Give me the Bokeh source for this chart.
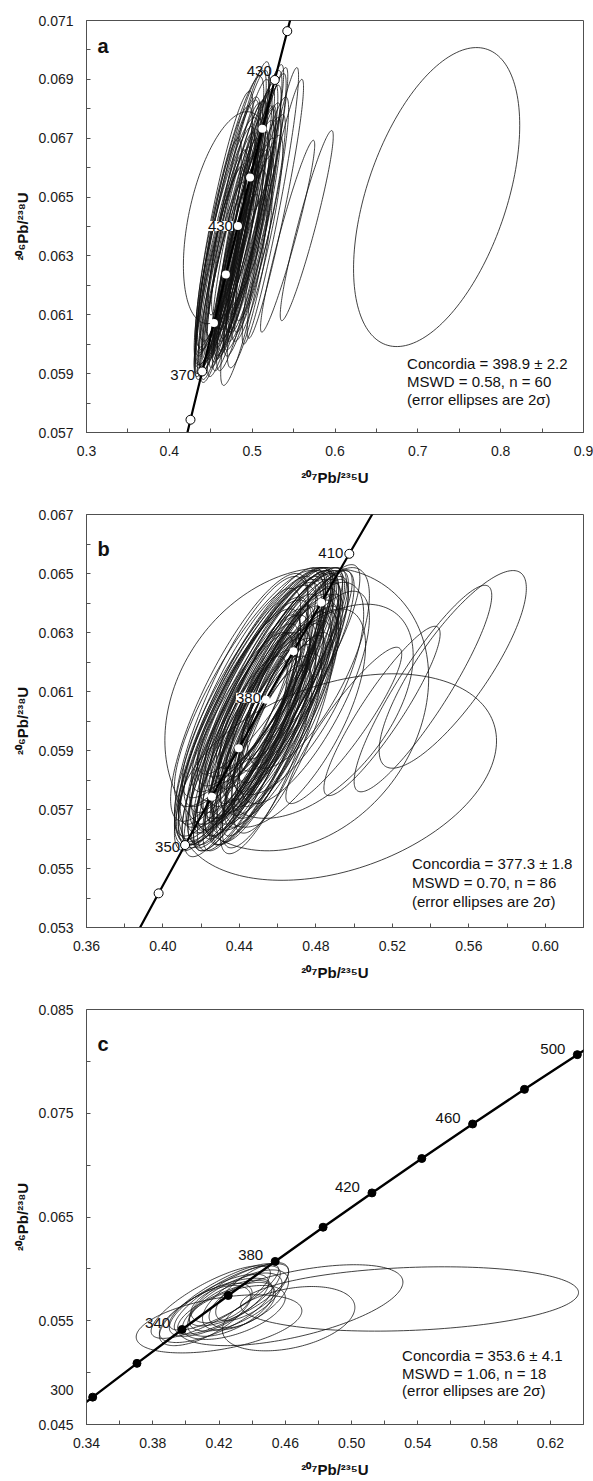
import numpy as np
from bokeh.plotting import figure
from bokeh.models import Range1d, FixedTicker, PrintfTickFormatter, Label
from bokeh.layouts import column
from bokeh.embed import file_html
from bokeh.resources import INLINE

FONT = "Liberation Sans"
L235 = 9.8485e-4   # decay constant 235U, 1/Ma
L238 = 1.55125e-4  # decay constant 238U, 1/Ma

# ---------------- panel a : error ellipses (centre, 2-sigma half widths, rho) ----------------
a_cx = [0.480, 0.470, 0.490, 0.462, 0.498, 0.476, 0.486, 0.461, 0.494, 0.505,
        0.469, 0.483, 0.492, 0.472, 0.502, 0.459, 0.488, 0.478, 0.508, 0.463,
        0.497, 0.482, 0.468, 0.492, 0.503, 0.466, 0.487, 0.499, 0.474, 0.489,
        0.503, 0.461, 0.481, 0.506, 0.473, 0.484, 0.495, 0.467, 0.479, 0.509,
        0.465, 0.486, 0.475, 0.496, 0.470, 0.490, 0.512, 0.471, 0.484, 0.497,
        0.466, 0.491, 0.477, 0.528, 0.480, 0.522,
        0.470, 0.5428, 0.5659, 0.7227]
a_cy = [0.0636, 0.0632, 0.0640, 0.0628, 0.0645, 0.0638, 0.0634, 0.0625, 0.0641, 0.0648,
        0.0635, 0.0630, 0.0637, 0.0641, 0.0639, 0.0630, 0.0644, 0.0627, 0.0652, 0.0622,
        0.0634, 0.0648, 0.0629, 0.0646, 0.0643, 0.0637, 0.0625, 0.0650, 0.0620, 0.0631,
        0.0655, 0.0624, 0.0642, 0.0636, 0.0645, 0.0628, 0.0647, 0.0633, 0.0639, 0.0641,
        0.0619, 0.0650, 0.0633, 0.0630, 0.0640, 0.0618, 0.0646, 0.0626, 0.0653, 0.0623,
        0.0641, 0.0638, 0.0647, 0.0646, 0.0621, 0.0647,
        0.0643, 0.06367, 0.06403, 0.0650]
a_sx = [0.036, 0.034, 0.036, 0.032, 0.037, 0.037, 0.033, 0.031, 0.035, 0.036,
        0.039, 0.032, 0.035, 0.038, 0.033, 0.028, 0.036, 0.030, 0.035, 0.029,
        0.032, 0.038, 0.033, 0.035, 0.032, 0.034, 0.030, 0.037, 0.028, 0.031,
        0.035, 0.030, 0.035, 0.031, 0.041, 0.029, 0.036, 0.036, 0.039, 0.031,
        0.028, 0.035, 0.033, 0.030, 0.038, 0.028, 0.032, 0.033, 0.037, 0.027,
        0.035, 0.037, 0.040, 0.034, 0.028, 0.034,
        0.053, 0.0327, 0.032, 0.1003]
a_sy = [0.0041, 0.0040, 0.0041, 0.0038, 0.0043, 0.0044, 0.0039, 0.0036, 0.0040, 0.0044,
        0.0042, 0.0036, 0.0039, 0.0043, 0.0038, 0.0040, 0.0042, 0.0035, 0.0042, 0.0033,
        0.0036, 0.0045, 0.0038, 0.0041, 0.0039, 0.0044, 0.0034, 0.0043, 0.0031, 0.0035,
        0.0040, 0.0036, 0.0041, 0.0035, 0.0046, 0.0033, 0.0042, 0.0041, 0.0044, 0.0037,
        0.0032, 0.0040, 0.0037, 0.0034, 0.0043, 0.0032, 0.0038, 0.0038, 0.0043, 0.0031,
        0.0045, 0.0042, 0.0046, 0.0044, 0.0030, 0.0047,
        0.0036, 0.00326, 0.00323, 0.00508]
a_rho = [0.90, 0.91, 0.90, 0.90, 0.91, 0.89, 0.92, 0.89, 0.91, 0.92,
         0.86, 0.90, 0.88, 0.87, 0.89, 0.86, 0.91, 0.91, 0.93, 0.88,
         0.87, 0.90, 0.86, 0.93, 0.88, 0.87, 0.88, 0.90, 0.89, 0.91,
         0.92, 0.87, 0.92, 0.86, 0.88, 0.89, 0.88, 0.89, 0.91, 0.90,
         0.86, 0.90, 0.93, 0.88, 0.90, 0.87, 0.89, 0.91, 0.91, 0.85,
         0.88, 0.92, 0.89, 0.94, 0.88, 0.94,
         0.45, 0.95, 0.94, 0.48]
a_curve_ages = [340, 350, 360, 370, 380, 390, 400, 410, 420, 430, 440, 450, 460]
a_open_ages = [360, 370, 430, 440]
a_white_ages = [380, 390, 400, 410, 420]
a_lab_ages = [430, 400, 370]
a_lab_text = ["430", "430", "370"]

# ---------------- panel b ----------------
b_cx = [0.450, 0.446, 0.455, 0.442, 0.459, 0.448, 0.453, 0.440, 0.457, 0.463,
        0.444, 0.451, 0.456, 0.447, 0.461, 0.439, 0.454, 0.449, 0.466, 0.443,
        0.458, 0.452, 0.445, 0.457, 0.462, 0.441, 0.452, 0.460, 0.447, 0.455,
        0.467, 0.437, 0.450, 0.462, 0.445, 0.453, 0.459, 0.442, 0.451, 0.465,
        0.438, 0.456, 0.448, 0.460, 0.444, 0.457, 0.468, 0.446, 0.454, 0.463,
        0.440, 0.458, 0.449, 0.464, 0.451, 0.470, 0.443, 0.455, 0.461, 0.447,
        0.452, 0.466, 0.439, 0.458, 0.453, 0.444, 0.460, 0.449, 0.472, 0.456,
        0.441, 0.463, 0.448, 0.459, 0.470, 0.476, 0.468, 0.454, 0.474,
        0.470, 0.4913, 0.5516, 0.536, 0.5146, 0.4946, 0.480]
b_cy = [0.0603, 0.0600, 0.0607, 0.0596, 0.0611, 0.0605, 0.0600, 0.0594, 0.0605, 0.0614,
        0.0602, 0.0597, 0.0609, 0.0608, 0.0606, 0.0598, 0.0612, 0.0595, 0.0616, 0.0590,
        0.0601, 0.0614, 0.0597, 0.0613, 0.0609, 0.0604, 0.0593, 0.0615, 0.0589, 0.0598,
        0.0612, 0.0593, 0.0610, 0.0603, 0.0611, 0.0592, 0.0608, 0.0601, 0.0607, 0.0607,
        0.0588, 0.0616, 0.0601, 0.0599, 0.0607, 0.0590, 0.0614, 0.0594, 0.0617, 0.0596,
        0.0608, 0.0606, 0.0613, 0.0602, 0.0590, 0.0617, 0.0599, 0.0604, 0.0618, 0.0592,
        0.0609, 0.0605, 0.0603, 0.0595, 0.0615, 0.0593, 0.0611, 0.0606, 0.0620, 0.0596,
        0.0597, 0.0618, 0.0611, 0.0602, 0.0611, 0.0618, 0.0601, 0.0587, 0.0608,
        0.0604, 0.0581, 0.06175, 0.0611, 0.06034, 0.05985, 0.06033]
b_sx = [0.032, 0.030, 0.034, 0.029, 0.035, 0.036, 0.031, 0.030, 0.032, 0.034,
        0.037, 0.029, 0.036, 0.038, 0.031, 0.033, 0.035, 0.028, 0.033, 0.027,
        0.030, 0.037, 0.032, 0.034, 0.030, 0.035, 0.028, 0.035, 0.026, 0.029,
        0.030, 0.031, 0.036, 0.029, 0.039, 0.027, 0.034, 0.034, 0.037, 0.029,
        0.027, 0.034, 0.031, 0.028, 0.036, 0.026, 0.029, 0.031, 0.036, 0.026,
        0.036, 0.035, 0.039, 0.028, 0.026, 0.030, 0.035, 0.030, 0.033, 0.029,
        0.033, 0.027, 0.033, 0.027, 0.035, 0.028, 0.032, 0.034, 0.031, 0.028,
        0.031, 0.033, 0.037, 0.033, 0.035, 0.032, 0.038, 0.024, 0.034,
        0.069, 0.0832, 0.0385, 0.036, 0.0304, 0.0303, 0.0509]
b_sy = [0.0040, 0.0038, 0.0041, 0.0037, 0.0040, 0.0043, 0.0039, 0.0036, 0.0038, 0.0037,
        0.0044, 0.0036, 0.0042, 0.0044, 0.0037, 0.0040, 0.0039, 0.0035, 0.0035, 0.0034,
        0.0036, 0.0038, 0.0039, 0.0037, 0.0036, 0.0045, 0.0035, 0.0036, 0.0033, 0.0036,
        0.0036, 0.0037, 0.0041, 0.0035, 0.0040, 0.0034, 0.0040, 0.0041, 0.0043, 0.0036,
        0.0034, 0.0035, 0.0038, 0.0035, 0.0042, 0.0033, 0.0035, 0.0037, 0.0035, 0.0034,
        0.0042, 0.0041, 0.0039, 0.0035, 0.0032, 0.0034, 0.0042, 0.0037, 0.0034, 0.0036,
        0.0040, 0.0034, 0.0042, 0.0034, 0.0037, 0.0037, 0.0039, 0.0041, 0.0033, 0.0037,
        0.0039, 0.0034, 0.0040, 0.0039, 0.0036, 0.0034, 0.0037, 0.0032, 0.0036,
        0.0048, 0.0035, 0.00335, 0.0035, 0.00287, 0.00265, 0.00363]
b_rho = [0.86, 0.87, 0.85, 0.86, 0.87, 0.84, 0.88, 0.85, 0.86, 0.88,
         0.82, 0.87, 0.83, 0.84, 0.85, 0.83, 0.89, 0.88, 0.89, 0.84,
         0.83, 0.87, 0.82, 0.90, 0.84, 0.80, 0.85, 0.86, 0.86, 0.89,
         0.86, 0.84, 0.88, 0.82, 0.83, 0.86, 0.84, 0.86, 0.88, 0.87,
         0.83, 0.87, 0.90, 0.84, 0.86, 0.82, 0.85, 0.88, 0.88, 0.80,
         0.82, 0.89, 0.86, 0.81, 0.85, 0.84, 0.81, 0.90, 0.88, 0.84,
         0.85, 0.83, 0.84, 0.87, 0.86, 0.85, 0.87, 0.83, 0.86, 0.84,
         0.87, 0.85, 0.87, 0.80, 0.70, 0.72, 0.66, 0.80, 0.75,
         0.22, 0.35, 0.82, 0.90, 0.91, 0.91, 0.52]
b_curve_ages = [320, 330, 340, 350, 360, 370, 380, 390, 400, 410, 420, 430]
b_open_ages = [340, 350, 410]
b_white_ages = [360, 370, 380, 390, 400]
b_lab_ages = [410, 380, 350]
b_lab_text = ["410", "380", "350"]

# ---------------- panel c ----------------
c_cx = [0.425, 0.420, 0.430, 0.418, 0.432, 0.427, 0.415, 0.436, 0.423, 0.429,
        0.440, 0.412, 0.434, 0.421, 0.535, 0.463, 0.462, 0.420]
c_cy = [0.0570, 0.0565, 0.0568, 0.0560, 0.0575, 0.0562, 0.0568, 0.0570, 0.0573, 0.0558,
        0.0578, 0.0556, 0.0565, 0.0566, 0.0571, 0.0565, 0.0552, 0.0547]
c_sx = [0.032, 0.030, 0.028, 0.034, 0.030, 0.026, 0.036, 0.026, 0.033, 0.031,
        0.022, 0.028, 0.020, 0.018, 0.102, 0.068, 0.040, 0.050]
c_sy = [0.0033, 0.0030, 0.0028, 0.0031, 0.0030, 0.0027, 0.0035, 0.0029, 0.0032, 0.0026,
        0.0028, 0.0030, 0.0022, 0.0018, 0.0031, 0.0039, 0.0031, 0.0028]
c_rho = [0.78, 0.72, 0.65, 0.70, 0.75, 0.60, 0.80, 0.62, 0.82, 0.55,
         0.70, 0.68, 0.50, 0.45, 0.20, 0.57, 0.35, 0.45]
c_curve_ages = [280, 290, 300, 320, 340, 360, 380, 400, 420, 440, 460, 480, 500, 520]
c_dot_ages = [300, 320, 340, 360, 380, 400, 420, 440, 460, 480, 500]
c_lab_ages = [340, 380, 420, 460, 500]
c_lab_text = ["340", "380", "420", "460", "500"]
c_edge_label_y = 0.0483      # "300" age label, sits left of the frame
c_edge_label_text = "300"


def conc_x(t):
    return np.exp(L235 * np.asarray(t, dtype=float)) - 1.0


def conc_y(t):
    return np.exp(L238 * np.asarray(t, dtype=float)) - 1.0


T = np.linspace(0.0, 2.0 * np.pi, 181)


def outlines(cx, cy, sx, sy, rho):
    xs, ys = [], []
    for a, b, c, d, r in zip(cx, cy, sx, sy, rho):
        xs.append(a + c * np.cos(T))
        ys.append(b + d * (r * np.cos(T) + np.sqrt(1.0 - r * r) * np.sin(T)))
    return xs, ys


def make_fig(h, top, bottom, xr, yr, xt, xm, yt, ym, xfmt, yfmt, ylab):
    p = figure(width=593, height=h, x_range=Range1d(*xr), y_range=Range1d(*yr),
               output_backend="svg", toolbar_location=None,
               min_border_left=86, min_border_right=10,
               min_border_top=top, min_border_bottom=bottom)
    p.grid.visible = False
    p.background_fill_color = "white"
    p.border_fill_color = "white"
    p.outline_line_color = "#505050"
    p.outline_line_width = 1
    p.outline_line_alpha = 1
    for ax, ticks, minor, fmt in ((p.xaxis, xt, xm, xfmt), (p.yaxis, yt, ym, yfmt)):
        ax.ticker = FixedTicker(ticks=ticks, minor_ticks=minor)
        ax.formatter = PrintfTickFormatter(format=fmt)
        ax.axis_line_color = "#505050"
        ax.major_tick_line_color = "#505050"
        ax.minor_tick_line_color = "#505050"
        ax.major_tick_in = 4
        ax.major_tick_out = 0
        ax.minor_tick_in = 4
        ax.minor_tick_out = 0
        ax.major_label_text_font = FONT
        ax.major_label_text_font_size = "14px"
        ax.major_label_text_color = "#1a1a1a"
        ax.axis_label_text_font = FONT
        ax.axis_label_text_font_size = "15px"
        ax.axis_label_text_font_style = "bold"
        ax.axis_label_text_color = "#111111"
    p.xaxis.axis_label = "²⁰⁷Pb/²³⁵U"
    p.yaxis.axis_label = ylab
    p.xaxis.major_label_standoff = 13
    p.xaxis.axis_label_standoff = 10
    p.yaxis.major_label_standoff = 13
    p.yaxis.axis_label_standoff = 4
    return p


def fxy(p, fx, fy):
    xr, yr = p.x_range, p.y_range
    return xr.start + fx * (xr.end - xr.start), yr.end - fy * (yr.end - yr.start)


def add_text(p, letter, lfy, lines, tfx, tfys):
    x, y = fxy(p, 0.022, lfy)
    p.add_layout(Label(x=x, y=y, text=letter, text_font=FONT, text_font_size="20px",
                       text_font_style="bold", text_color="#111111",
                       text_baseline="alphabetic", text_align="left"))
    for s, f in zip(lines, tfys):
        x, y = fxy(p, tfx, f)
        p.add_layout(Label(x=x, y=y, text=s, text_font=FONT, text_font_size="15px",
                           text_color="#111111", text_baseline="middle", text_align="left"))


def add_age_labels(p, ages, texts, dxs, dys, boxed):
    for t, s, dx, dy, bx in zip(ages, texts, dxs, dys, boxed):
        lab = Label(x=float(conc_x(t)), y=float(conc_y(t)), text=s, x_offset=dx, y_offset=dy,
                    text_font=FONT, text_font_size="15px", text_color="#111111",
                    text_align="right", text_baseline="middle")
        if bx:
            lab.background_fill_color = "white"
            lab.background_fill_alpha = 1.0
        p.add_layout(lab)


YLAB = "²⁰⁶Pb/²³⁸U"

# ---------- figure a ----------
pa = make_fig(500, 20, 68, (0.3, 0.9), (0.057, 0.071),
              [0.3, 0.4, 0.5, 0.6, 0.7, 0.8, 0.9], [0.35, 0.45, 0.55, 0.65, 0.75, 0.85],
              [0.057, 0.059, 0.061, 0.063, 0.065, 0.067, 0.069, 0.071],
              [0.058, 0.060, 0.062, 0.064, 0.066, 0.068, 0.070], "%.1f", "%.3f", YLAB)
xs, ys = outlines(a_cx, a_cy, a_sx, a_sy, a_rho)
pa.multi_line(xs, ys, line_color="#111111", line_width=0.8)
pa.line(conc_x(a_curve_ages), conc_y(a_curve_ages), line_color="black", line_width=2.2)
pa.scatter(conc_x(a_white_ages), conc_y(a_white_ages), size=8, fill_color="white", line_color=None)
pa.scatter(conc_x(a_open_ages), conc_y(a_open_ages), size=9, fill_color="white",
           line_color="black", line_width=1)
add_age_labels(pa, a_lab_ages, a_lab_text, [-3, -5, -7], [9, 0, -4], [False, True, False])
add_text(pa, "a", 0.061,
         ["Concordia = 398.9 ± 2.2", "MSWD = 0.58, n = 60", "(error ellipses are 2σ)"],
         0.645, [0.832, 0.876, 0.920])

# ---------- figure b ----------
pb = make_fig(496, 14, 69, (0.36, 0.62), (0.053, 0.067),
              [0.36, 0.40, 0.44, 0.48, 0.52, 0.56, 0.60], [0.38, 0.42, 0.46, 0.50, 0.54, 0.58, 0.62],
              [0.053, 0.055, 0.057, 0.059, 0.061, 0.063, 0.065, 0.067],
              [0.054, 0.056, 0.058, 0.060, 0.062, 0.064, 0.066], "%.2f", "%.3f", YLAB)
xs, ys = outlines(b_cx, b_cy, b_sx, b_sy, b_rho)
pb.multi_line(xs, ys, line_color="#111111", line_width=0.8)
pb.line(conc_x(b_curve_ages), conc_y(b_curve_ages), line_color="black", line_width=2.2)
pb.scatter(conc_x(b_white_ages), conc_y(b_white_ages), size=8, fill_color="white", line_color=None)
pb.scatter(conc_x(b_open_ages), conc_y(b_open_ages), size=9, fill_color="white",
           line_color="black", line_width=1)
add_age_labels(pb, b_lab_ages, b_lab_text, [-6, -5, -5], [1, 2, -2], [False, True, False])
add_text(pb, "b", 0.083,
         ["Concordia = 377.3 ± 1.8", "MSWD = 0.70, n = 86", "(error ellipses are 2σ)"],
         0.655, [0.846, 0.891, 0.936])

# ---------- figure c ----------
c_major_y = [0.045, c_edge_label_y, 0.055, 0.065, 0.075, 0.085]
pc = make_fig(484, 13, 55, (0.34, 0.64), (0.045, 0.085),
              [0.34, 0.38, 0.42, 0.46, 0.50, 0.54, 0.58, 0.62],
              [0.36, 0.40, 0.44, 0.48, 0.52, 0.56, 0.60, 0.64],
              c_major_y, [0.050, 0.055, 0.060, 0.065, 0.070, 0.075, 0.080],
              "%.2f", "%.3f", YLAB)
pc.yaxis.major_tick_in = 0
pc.yaxis.major_label_overrides = {c_edge_label_y: c_edge_label_text}
xs, ys = outlines(c_cx, c_cy, c_sx, c_sy, c_rho)
pc.multi_line(xs, ys, line_color="#111111", line_width=0.8)
pc.line(conc_x(c_curve_ages), conc_y(c_curve_ages), line_color="black", line_width=2.4)
pc.scatter(conc_x(c_dot_ages), conc_y(c_dot_ages), size=8, fill_color="black", line_color="black")
add_age_labels(pc, c_lab_ages, c_lab_text, [-12] * 5, [6] * 5, [False] * 5)
add_text(pc, "c", 0.083,
         ["Concordia = 353.6 ± 4.1", "MSWD = 1.06, n = 18", "(error ellipses are 2σ)"],
         0.635, [0.833, 0.876, 0.919])

layout = column(pa, pb, pc)
open("out.html", "w").write(file_html(layout, INLINE))
